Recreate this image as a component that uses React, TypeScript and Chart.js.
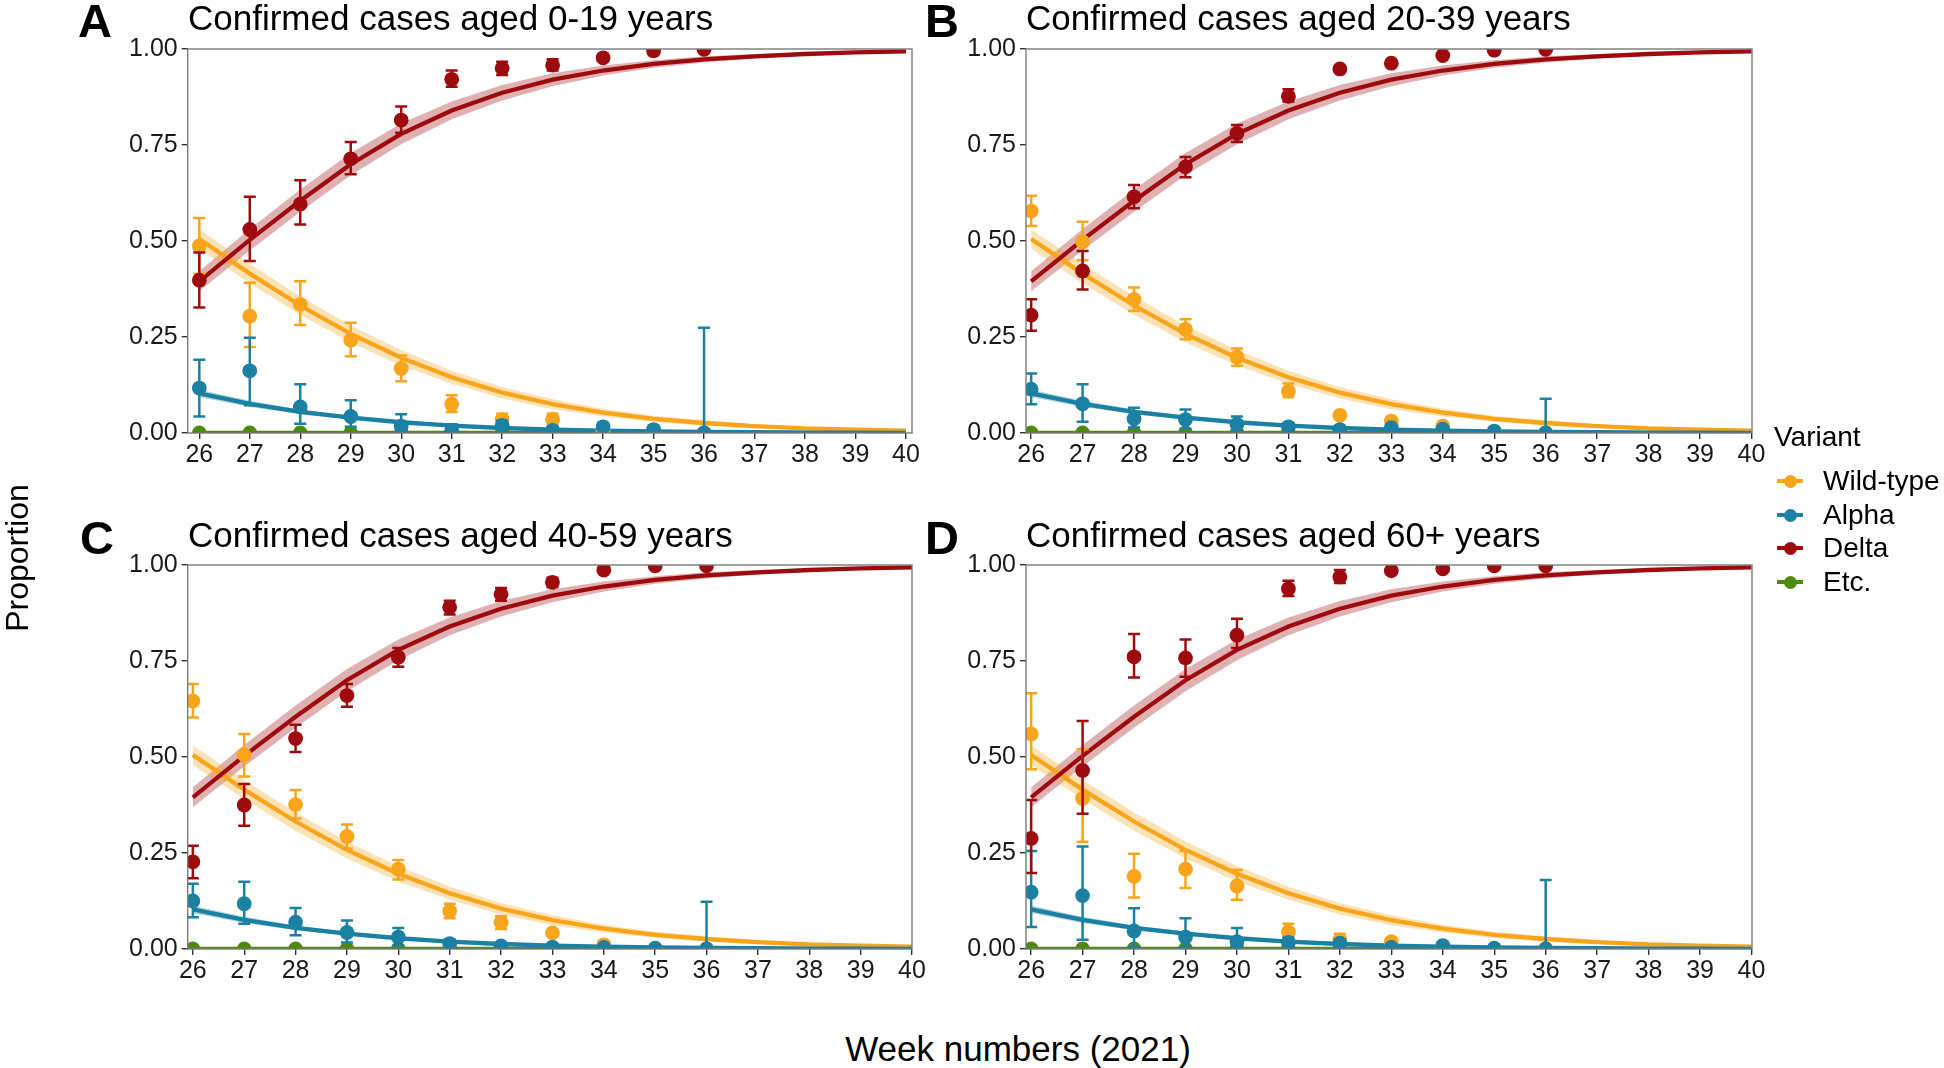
import React, { useEffect, useRef } from "react";
import { Chart, registerables } from "chart.js";

Chart.register(...registerables);

const FONT = '"Liberation Sans", Arial, Helvetica, sans-serif';

// ---------- shared data ----------
const variants = ["Wild-type", "Alpha", "Delta", "Etc."];
const colors = ["#F8A51C", "#1B80A2", "#9E0B0F", "#4E8A10"];
const ribbonColors = ["rgba(248,165,28,0.32)", "rgba(27,128,162,0.32)", "rgba(158,11,15,0.32)", "rgba(78,138,16,0.32)"];

const weeksObs = [26, 27, 28, 29, 30, 31, 32, 33, 34, 35, 36];
const weeksFit = [26, 27, 28, 29, 30, 31, 32, 33, 34, 35, 36, 37, 38, 39, 40];
const xTickLabels = ["26", "27", "28", "29", "30", "31", "32", "33", "34", "35", "36", "37", "38", "39", "40"];
const yTickLabels = ["0.00", "0.25", "0.50", "0.75", "1.00"];

// fitted curves (same model shown in every panel)
const wildFit = [0.505, 0.415, 0.332, 0.258, 0.196, 0.145, 0.105, 0.075, 0.053, 0.037, 0.026, 0.018, 0.012, 0.009, 0.006];
const wildLo = [0.480, 0.390, 0.308, 0.236, 0.176, 0.128, 0.090, 0.062, 0.043, 0.029, 0.019, 0.013, 0.008, 0.006, 0.004];
const wildHi = [0.530, 0.440, 0.356, 0.280, 0.216, 0.162, 0.120, 0.088, 0.063, 0.045, 0.033, 0.023, 0.016, 0.012, 0.008];
const alphaFit = [0.103, 0.076, 0.055, 0.040, 0.028, 0.019, 0.013, 0.009, 0.006, 0.004, 0.003, 0.002, 0.001, 0.001, 0.0005];
const alphaLo = [0.093, 0.068, 0.049, 0.035, 0.024, 0.016, 0.011, 0.0075, 0.005, 0.003, 0.002, 0.0015, 0.0007, 0.0007, 0.0003];
const alphaHi = [0.113, 0.084, 0.061, 0.045, 0.032, 0.022, 0.015, 0.0105, 0.007, 0.005, 0.004, 0.0025, 0.0013, 0.0013, 0.0007];
const deltaFit = [0.395, 0.503, 0.605, 0.700, 0.779, 0.840, 0.886, 0.920, 0.944, 0.961, 0.973, 0.981, 0.987, 0.991, 0.994];
const deltaLo = [0.369, 0.475, 0.576, 0.671, 0.752, 0.817, 0.866, 0.903, 0.931, 0.951, 0.965, 0.975, 0.983, 0.988, 0.991];
const deltaHi = [0.421, 0.531, 0.634, 0.729, 0.806, 0.863, 0.906, 0.937, 0.957, 0.971, 0.981, 0.987, 0.991, 0.994, 0.997];
const etcFit = [0, 0, 0, 0, 0, 0, 0, 0, 0, 0, 0, 0, 0, 0, 0];

const etcObs = [0, 0, 0, 0, 0, 0, 0, 0, 0, 0, 0];

// ---------- Panel A: aged 0-19 ----------
const aWild = [0.487, 0.304, 0.335, 0.242, 0.168, 0.075, 0.035, 0.036, 0.007, 0.002, 0];
const aWildLo = [0.415, 0.224, 0.281, 0.200, 0.135, 0.055, 0.023, 0.024, null, null, null];
const aWildHi = [0.560, 0.391, 0.395, 0.287, 0.202, 0.098, 0.050, 0.050, null, null, null];
const aAlpha = [0.117, 0.162, 0.068, 0.043, 0.018, 0.007, 0.020, 0.007, 0.016, 0.009, 0];
const aAlphaLo = [0.043, 0.072, 0.024, 0.016, 0.005, 0.002, 0.010, 0.002, 0.008, 0.003, 0];
const aAlphaHi = [0.191, 0.248, 0.127, 0.085, 0.049, 0.023, 0.032, 0.016, 0.026, 0.018, 0.274];
const aDelta = [0.398, 0.530, 0.596, 0.714, 0.815, 0.921, 0.950, 0.958, 0.977, 0.995, 0.999];
const aDeltaLo = [0.327, 0.448, 0.543, 0.674, 0.782, 0.902, 0.932, 0.944, null, null, null];
const aDeltaHi = [0.470, 0.615, 0.658, 0.758, 0.850, 0.944, 0.967, 0.973, null, null, null];

// ---------- Panel B: aged 20-39 ----------
const bWild = [0.578, 0.498, 0.348, 0.270, 0.198, 0.109, 0.046, 0.031, 0.018, 0.003, 0];
const bWildLo = [0.539, 0.450, 0.318, 0.244, 0.175, 0.094, null, null, null, null, null];
const bWildHi = [0.618, 0.550, 0.379, 0.296, 0.220, 0.129, null, null, null, null, null];
const bAlpha = [0.114, 0.076, 0.037, 0.035, 0.023, 0.016, 0.009, 0.014, 0.010, 0.005, 0];
const bAlphaLo = [0.075, 0.029, 0.014, 0.011, 0.007, 0.008, null, 0.006, null, null, 0];
const bAlphaHi = [0.155, 0.127, 0.066, 0.061, 0.043, 0.026, null, 0.022, null, null, 0.089];
const bDelta = [0.307, 0.422, 0.615, 0.693, 0.780, 0.877, 0.948, 0.963, 0.983, 0.997, 0.999];
const bDeltaLo = [0.266, 0.374, 0.585, 0.666, 0.758, 0.863, null, null, null, null, null];
const bDeltaHi = [0.348, 0.474, 0.646, 0.719, 0.802, 0.895, null, null, null, null, null];

// ---------- Panel C: aged 40-59 ----------
const cWild = [0.646, 0.506, 0.376, 0.293, 0.208, 0.099, 0.069, 0.042, 0.011, 0.002, 0];
const cWildLo = [0.603, 0.449, 0.340, 0.262, 0.181, 0.080, 0.052, null, null, null, null];
const cWildHi = [0.690, 0.560, 0.414, 0.324, 0.232, 0.118, 0.085, null, null, null, null];
const cAlpha = [0.125, 0.118, 0.070, 0.043, 0.031, 0.014, 0.008, 0.005, 0.004, 0.002, 0];
const cAlphaLo = [0.083, 0.066, 0.036, 0.017, 0.009, 0.004, 0.002, null, null, null, 0];
const cAlphaHi = [0.170, 0.175, 0.107, 0.074, 0.055, 0.025, 0.016, null, null, null, 0.123];
const cDelta = [0.227, 0.375, 0.548, 0.660, 0.760, 0.890, 0.924, 0.955, 0.987, 0.998, 0.998];
const cDeltaLo = [0.184, 0.321, 0.513, 0.631, 0.735, 0.871, 0.907, 0.943, null, null, null];
const cDeltaHi = [0.269, 0.430, 0.584, 0.690, 0.784, 0.907, 0.940, 0.967, null, null, null];

// ---------- Panel D: aged 60+ ----------
const dWild = [0.560, 0.392, 0.189, 0.208, 0.164, 0.045, 0.024, 0.019, 0.005, 0, 0];
const dWildLo = [0.468, 0.279, 0.134, 0.159, 0.128, 0.024, 0.009, null, null, null, null];
const dWildHi = [0.666, 0.520, 0.248, 0.255, 0.206, 0.066, 0.040, null, null, null, null];
const dAlpha = [0.148, 0.139, 0.047, 0.031, 0.019, 0.017, 0.015, 0.004, 0.009, 0.002, 0];
const dAlphaLo = [0.057, 0.024, 0.005, 0.005, 0.002, 0.004, 0.006, null, 0.003, null, 0];
const dAlphaHi = [0.255, 0.267, 0.106, 0.080, 0.055, 0.030, 0.024, null, 0.014, null, 0.180];
const dDelta = [0.288, 0.465, 0.761, 0.758, 0.817, 0.938, 0.969, 0.985, 0.990, 0.998, 0.998];
const dDeltaLo = [0.198, 0.352, 0.707, 0.709, 0.784, 0.919, 0.953, null, null, null, null];
const dDeltaHi = [0.388, 0.594, 0.820, 0.806, 0.860, 0.959, 0.987, null, null, null, null];

const panelLetters = ["A", "B", "C", "D"];
const panelTitles = [
  "Confirmed cases aged 0-19 years",
  "Confirmed cases aged 20-39 years",
  "Confirmed cases aged 40-59 years",
  "Confirmed cases aged 60+ years",
];

type PanelData = {
  obs: (number | null)[][];
  lo: (number | null)[][];
  hi: (number | null)[][];
};

const panelData: PanelData[] = [
  { obs: [aWild, aAlpha, aDelta, etcObs], lo: [aWildLo, aAlphaLo, aDeltaLo, []], hi: [aWildHi, aAlphaHi, aDeltaHi, []] },
  { obs: [bWild, bAlpha, bDelta, etcObs], lo: [bWildLo, bAlphaLo, bDeltaLo, []], hi: [bWildHi, bAlphaHi, bDeltaHi, []] },
  { obs: [cWild, cAlpha, cDelta, etcObs], lo: [cWildLo, cAlphaLo, cDeltaLo, []], hi: [cWildHi, cAlphaHi, cDeltaHi, []] },
  { obs: [dWild, dAlpha, dDelta, etcObs], lo: [dWildLo, dAlphaLo, dDeltaLo, []], hi: [dWildHi, dAlphaHi, dDeltaHi, []] },
];

const fits = [wildFit, alphaFit, deltaFit, etcFit];
const fitLo = [wildLo, alphaLo, deltaLo, null];
const fitHi = [wildHi, alphaHi, deltaHi, null];

// ---------- layout (plot-area boxes in page pixels) ----------
const panelBoxes = [
  { L: 187.7, R: 912, T: 49, B: 433, xmin: 25.77, xmax: 40.12 },
  { L: 1026, R: 1752, T: 49, B: 433, xmin: 25.9, xmax: 40.01 },
  { L: 187.7, R: 912, T: 565, B: 949, xmin: 25.9, xmax: 40.0 },
  { L: 1026, R: 1752, T: 565, B: 949, xmin: 25.9, xmax: 40.01 },
];

const AXW = 90; // y-axis box width
const AXH = 50; // x-axis box height
const PADT = 20;
const PADR = 30;

const errorBarPlugin = {
  id: "errorBars",
  beforeDatasetDraw(chart: any, args: any) {
    const ds: any = chart.data.datasets[args.index];
    if (!ds.errLo || !ds.errHi) return;
    const { ctx, chartArea } = chart;
    const xs = chart.scales.x;
    const ys = chart.scales.y;
    ctx.save();
    ctx.beginPath();
    ctx.rect(chartArea.left, chartArea.top, chartArea.right - chartArea.left, chartArea.bottom - chartArea.top);
    ctx.clip();
    ctx.strokeStyle = ds.borderColor;
    ctx.lineWidth = 2.5;
    ds.data.forEach((p: any, i: number) => {
      const lo = ds.errLo[i];
      const hi = ds.errHi[i];
      if (lo == null || hi == null) return;
      const x = xs.getPixelForValue(p.x);
      const y1 = ys.getPixelForValue(lo);
      const y2 = ys.getPixelForValue(hi);
      ctx.beginPath();
      ctx.moveTo(x, y1);
      ctx.lineTo(x, y2);
      ctx.moveTo(x - 6, y1);
      ctx.lineTo(x + 6, y1);
      ctx.moveTo(x - 6, y2);
      ctx.lineTo(x + 6, y2);
      ctx.stroke();
    });
    ctx.restore();
  },
};

const borderPlugin = {
  id: "panelBorder",
  afterDatasetsDraw(chart: any) {
    const { ctx, chartArea } = chart;
    ctx.save();
    ctx.strokeStyle = "#7a7a7a";
    ctx.lineWidth = 1.4;
    ctx.strokeRect(chartArea.left, chartArea.top, chartArea.right - chartArea.left, chartArea.bottom - chartArea.top);
    ctx.restore();
  },
};

function buildDatasets(pd: PanelData) {
  const ds: any[] = [];
  // ribbons
  for (let v = 0; v < 3; v++) {
    ds.push({
      data: weeksFit.map((w, i) => ({ x: w, y: (fitLo[v] as number[])[i] })),
      borderWidth: 0,
      pointRadius: 0,
      fill: false,
      order: 20,
    });
    ds.push({
      data: weeksFit.map((w, i) => ({ x: w, y: (fitHi[v] as number[])[i] })),
      borderWidth: 0,
      pointRadius: 0,
      backgroundColor: ribbonColors[v],
      fill: "-1",
      order: 20,
    });
  }
  // fitted lines
  const lineOrder = [12, 11, 10, 13];
  for (let v = 0; v < 4; v++) {
    ds.push({
      data: weeksFit.map((w, i) => ({ x: w, y: fits[v][i] })),
      borderColor: colors[v],
      borderWidth: 4.3,
      pointRadius: 0,
      tension: 0,
      fill: false,
      order: lineOrder[v],
    });
  }
  // observed points with error bars
  const ptOrder = [2, 1, 0, 3];
  for (let v = 0; v < 4; v++) {
    ds.push({
      label: variants[v],
      data: weeksObs.map((w, i) => ({ x: w, y: pd.obs[v][i] })),
      showLine: false,
      borderColor: colors[v],
      backgroundColor: colors[v],
      pointRadius: 7.4,
      pointBorderWidth: 0,
      pointHoverRadius: 7.4,
      errLo: pd.lo[v].length ? pd.lo[v] : null,
      errHi: pd.hi[v].length ? pd.hi[v] : null,
      order: ptOrder[v],
    });
  }
  return ds;
}

function Panel({ index }: { index: number }) {
  const ref = useRef<HTMLCanvasElement>(null);
  const box = panelBoxes[index];
  const left = Math.floor(box.L - AXW);
  const top = box.T - PADT;
  const width = Math.ceil(box.R + PADR - left);
  const height = box.B + AXH - top;
  const yAxisW = box.L - left;

  useEffect(() => {
    if (!ref.current) return;
    const chart = new Chart(ref.current, {
      type: "line",
      data: { datasets: buildDatasets(panelData[index]) },
      options: {
        animation: false,
        responsive: false,
        devicePixelRatio: 1,
        layout: { padding: { top: PADT, right: PADR, bottom: 0, left: 0 } },
        plugins: { legend: { display: false }, tooltip: { enabled: false }, title: { display: false } },
        events: [],
        scales: {
          x: {
            type: "linear",
            min: box.xmin,
            max: box.xmax,
            afterFit: (s: any) => {
              s.height = AXH;
            },
            afterBuildTicks: (s: any) => {
              s.ticks = xTickLabels.map((t) => ({ value: Number(t) }));
            },
            ticks: {
              autoSkip: false,
              maxRotation: 0,
              includeBounds: false,
              padding: 1,
              color: "#1a1a1a",
              font: { family: FONT, size: 25 },
              callback: (v: any) => String(v),
            },
            grid: { drawOnChartArea: false, drawTicks: true, tickLength: 6, color: "#333", lineWidth: 1.4 },
            border: { display: false },
          },
          y: {
            type: "linear",
            min: 0,
            max: 1,
            afterFit: (s: any) => {
              s.width = yAxisW;
            },
            afterBuildTicks: (s: any) => {
              s.ticks = yTickLabels.map((t) => ({ value: Number(t) }));
            },
            ticks: {
              autoSkip: false,
              padding: 4,
              color: "#1a1a1a",
              font: { family: FONT, size: 25 },
              callback: (v: any) => Number(v).toFixed(2),
            },
            grid: { drawOnChartArea: false, drawTicks: true, tickLength: 6, color: "#333", lineWidth: 1.4 },
            border: { display: false },
          },
        },
      } as any,
      plugins: [errorBarPlugin, borderPlugin],
    });
    return () => chart.destroy();
  }, [index]);

  return (
    <canvas
      ref={ref}
      width={width}
      height={height}
      style={{ position: "absolute", left, top, width, height }}
    />
  );
}

const letterPos = [
  { x: 78, y: -3 },
  { x: 925, y: -3 },
  { x: 80, y: 514 },
  { x: 925, y: 514 },
];
const titlePos = [
  { x: 188, y: 0 },
  { x: 1026, y: 0 },
  { x: 188, y: 517 },
  { x: 1026, y: 517 },
];
const legendY = [481, 515, 548, 582];

export default function App() {
  return (
    <div
      style={{
        position: "fixed",
        left: 0,
        top: 0,
        width: 1944,
        height: 1068,
        background: "#fff",
        overflow: "hidden",
        fontFamily: FONT,
        color: "#000",
      }}
    >
      {[0, 1, 2, 3].map((i) => (
        <Panel key={i} index={i} />
      ))}
      {panelLetters.map((t, i) => (
        <div
          key={"l" + t}
          style={{ position: "absolute", left: letterPos[i].x, top: letterPos[i].y, fontSize: 47, lineHeight: "47px", fontWeight: 700, whiteSpace: "nowrap" }}
        >
          {t}
        </div>
      ))}
      {panelTitles.map((t, i) => (
        <div
          key={"t" + i}
          style={{ position: "absolute", left: titlePos[i].x, top: titlePos[i].y, fontSize: 35, lineHeight: "35px", whiteSpace: "nowrap" }}
        >
          {t}
        </div>
      ))}
      <div
        style={{ position: "absolute", left: 1018, top: 1031, fontSize: 35, lineHeight: "35px", whiteSpace: "nowrap", transform: "translateX(-50%)" }}
      >
        Week numbers (2021)
      </div>
      <div
        style={{
          position: "absolute",
          left: 17,
          top: 558,
          fontSize: 32,
          lineHeight: "32px",
          whiteSpace: "nowrap",
          transform: "translate(-50%, -50%) rotate(-90deg)",
        }}
      >
        Proportion
      </div>
      <div style={{ position: "absolute", left: 1774, top: 423, fontSize: 28, lineHeight: "28px", whiteSpace: "nowrap" }}>
        Variant
      </div>
      {variants.map((v, i) => (
        <React.Fragment key={"lg" + v}>
          <div
            style={{ position: "absolute", left: 1777, top: legendY[i] - 2, width: 26, height: 4, background: colors[i] }}
          />
          <div
            style={{ position: "absolute", left: 1790 - 6.5, top: legendY[i] - 6.5, width: 13, height: 13, borderRadius: "50%", background: colors[i] }}
          />
          <div
            style={{ position: "absolute", left: 1823, top: legendY[i] + 10 - 23.7, fontSize: 28, lineHeight: "28px", whiteSpace: "nowrap" }}
          >
            {v}
          </div>
        </React.Fragment>
      ))}
    </div>
  );
}
